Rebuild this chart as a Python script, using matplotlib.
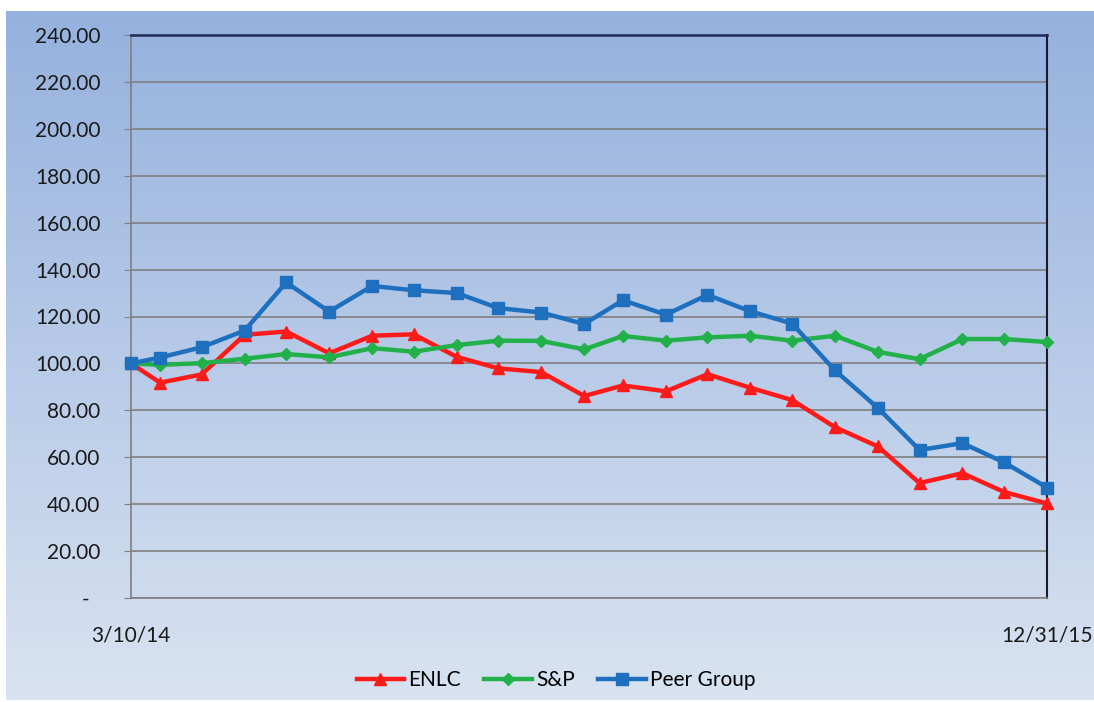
import matplotlib
matplotlib.use("Agg")
import matplotlib.pyplot as plt
import numpy as np
import pandas as pd

# dates: start date, then month ends
dates = [pd.Timestamp("2014-03-10")] + list(pd.date_range("2014-03-31", "2015-12-31", freq="ME"))

enlc = [100, 91.8, 95.3, 112.2, 113.6, 104.3, 111.8, 112.4, 102.8, 97.9, 96.3, 86.1,
        90.6, 88.1, 95.4, 89.6, 84.4, 72.8, 64.6, 49.0, 53.2, 45.2, 40.3]
snp = [100, 99.4, 100.1, 102.0, 104.0, 102.6, 106.5, 105.0, 107.8, 109.7, 109.6, 106.0,
       111.7, 109.7, 111.1, 111.8, 109.7, 111.8, 104.9, 101.8, 110.4, 110.4, 109.1]
peer = [100, 102.5, 106.9, 114.0, 134.5, 122.1, 133.0, 131.2, 130.0, 123.6, 121.7, 116.8,
        126.9, 120.8, 129.2, 122.2, 117.0, 97.0, 81.0, 63.1, 66.0, 57.8, 47.1]

series_names = ["ENLC", "S&P", "Peer Group"]
colors = ["#FF1A1A", "#22B04B", "#1F6FBF"]
markers = ["^", "D", "s"]
msizes = [8.5, 6, 8.5]

plt.rcParams["font.family"] = ["Lato", "DejaVu Sans"]

fig = plt.figure(figsize=(10.94, 7.02), dpi=100)
fig.patch.set_facecolor("white")

# gradient background of the chart area
bg = fig.add_axes([6 / 1094, 2 / 702, 1 - 6 / 1094, (702 - 11 - 2) / 702], zorder=0)
top_c = np.array([0x95, 0xB1, 0xDE]) / 255
bot_c = np.array([0xD9, 0xE3, 0xF1]) / 255
t = np.linspace(0, 1, 256)[:, None]
grad = top_c[None, :] * (1 - t) + bot_c[None, :] * t
bg.imshow(grad[:, None, :], aspect="auto", extent=[0, 1, 0, 1])
bg.axis("off")

ax = fig.add_axes([131 / 1094, 1 - 598 / 702, (1047 - 131) / 1094, (598 - 35) / 702], zorder=1)
ax.patch.set_alpha(0)

for vals, name, c, m, ms in zip([enlc, snp, peer], series_names, colors, markers, msizes):
    ax.plot(dates, vals, color=c, marker=m, markersize=ms, linewidth=3.2, label=name,
            markeredgecolor=c, clip_on=False, zorder=3)

ax.set_ylim(0, 240)
ax.set_yticks(np.arange(0, 241, 20))
ax.set_yticklabels(["-  "] + [f"{v:.2f}" for v in np.arange(20, 241, 20)])
ax.set_xlim(dates[0], dates[-1])
ax.set_xticks([dates[0], dates[-1]])
ax.set_xticklabels(["3/10/14", "12/31/15"])

ax.grid(axis="y", color="#7F7F7F", linewidth=1.2, zorder=1)
ax.tick_params(axis="y", length=5, color="#7F7F7F", labelsize=15, pad=17, labelcolor="#1A1A1A")
ax.tick_params(axis="x", length=0, labelsize=15, pad=20, labelcolor="#1A1A1A")

for s in ["left", "bottom"]:
    ax.spines[s].set_color("#7F7F7F")
    ax.spines[s].set_linewidth(1.2)
ax.spines["top"].set_color("#1F2A55")
ax.spines["top"].set_linewidth(1.8)
ax.spines["right"].set_color("#1A1A2A")
ax.spines["right"].set_linewidth(1.5)

fig.legend(loc="center", bbox_to_anchor=(556 / 1094, 1 - 680 / 702), ncol=3, frameon=False,
           fontsize=15, handlelength=2.3, columnspacing=1.1, handletextpad=0.2)

fig.savefig("out.png", dpi=100)
